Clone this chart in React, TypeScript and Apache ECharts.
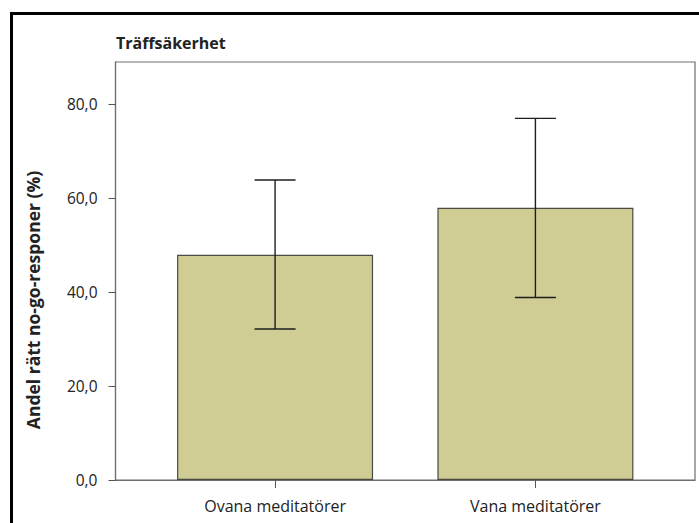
import React, { useEffect, useRef } from "react";
import * as echarts from "echarts";

const categories = ["Ovana meditatörer", "Vana meditatörer"];
const means = [47.9, 57.9];
const upper = [63.8, 76.9];
const lower = [32.1, 38.8];
const yTicks = [0, 20, 40, 60, 80];
const titleText = "Träffsäkerhet";
const yName = "Andel rätt no-go-responer (%)";

const FONT = "'Open Sans', 'Noto Sans', sans-serif";

export default function App() {
  const ref = useRef<HTMLDivElement>(null);
  useEffect(() => {
    if (!ref.current) return;
    const chart = echarts.init(ref.current, undefined, { renderer: "svg" });
    const catIdx = categories.map((_, i) => i);
    chart.setOption({
      animation: false,
      backgroundColor: "#ffffff",
      grid: {
        left: 115.5,
        right: 4,
        top: 62,
        bottom: 43,
        show: true,
        borderColor: "#6e6e6e",
        borderWidth: 1.2,
        backgroundColor: "transparent",
      },
      xAxis: {
        type: "value",
        min: -0.613,
        max: 1.613,
        splitLine: { show: false },
        axisLine: { show: true, onZero: false, lineStyle: { color: "#6e6e6e", width: 1.2 } },
        axisTick: {
          show: true,
          customValues: catIdx,
          length: 8,
          lineStyle: { color: "#555", width: 1 },
        },
        axisLabel: {
          customValues: catIdx,
          formatter: (v: number) => categories[Math.round(v)] ?? "",
          fontFamily: FONT,
          fontSize: 16,
          color: "#222",
          margin: 18,
        },
      },
      yAxis: {
        type: "value",
        min: 0,
        max: 88.9,
        splitLine: { show: false },
        axisLine: { show: true, onZero: false, lineStyle: { color: "#6e6e6e", width: 1.2 } },
        axisTick: {
          show: true,
          customValues: yTicks,
          length: 7,
          lineStyle: { color: "#555", width: 1 },
        },
        axisLabel: {
          customValues: yTicks,
          formatter: (v: number) => v.toFixed(1).replace(".", ","),
          fontFamily: FONT,
          fontSize: 15.5,
          color: "#222",
          margin: 18,
        },
      },
      series: [
        {
          type: "bar",
          data: means.map((m, i) => [i, m]),
          barWidth: 196,
          itemStyle: {
            color: "#d0cd94",
            borderColor: "#4a4a42",
            borderWidth: 1.2,
          },
        },
        {
          type: "custom",
          data: means.map((_, i) => [i, lower[i], upper[i]]),
          renderItem: (params: any, api: any) => {
            const x = api.value(0);
            const lo = api.coord([x, api.value(1)]);
            const hi = api.coord([x, api.value(2)]);
            const half = 20.5;
            const style = { stroke: "#1e1e1e", lineWidth: 1.4 };
            return {
              type: "group",
              children: [
                { type: "line", shape: { x1: hi[0], y1: hi[1], x2: lo[0], y2: lo[1] }, style },
                { type: "line", shape: { x1: hi[0] - half, y1: hi[1], x2: hi[0] + half, y2: hi[1] }, style },
                { type: "line", shape: { x1: lo[0] - half, y1: lo[1], x2: lo[0] + half, y2: lo[1] }, style },
              ],
            };
          },
          z: 5,
        },
      ],
      graphic: [
        {
          type: "rect",
          shape: { x: 11.5, y: 13.5, width: 800, height: 600 },
          style: { fill: "none", stroke: "#000", lineWidth: 3 },
          silent: true,
        },
        {
          type: "text",
          x: 116,
          y: 43,
          style: {
            text: titleText,
            font: `bold 16px ${FONT}`,
            fill: "#222",
            verticalAlign: "middle",
          },
        },
        {
          type: "text",
          x: 33,
          y: 300,
          rotation: Math.PI / 2,
          style: {
            text: yName,
            font: `bold 17.5px ${FONT}`,
            fill: "#222",
            align: "center",
            verticalAlign: "middle",
          },
        },
      ],
    });
    return () => chart.dispose();
  }, []);
  return (
    <div
      ref={ref}
      style={{ position: "fixed", left: 0, top: 0, width: 699, height: 523 }}
    />
  );
}
